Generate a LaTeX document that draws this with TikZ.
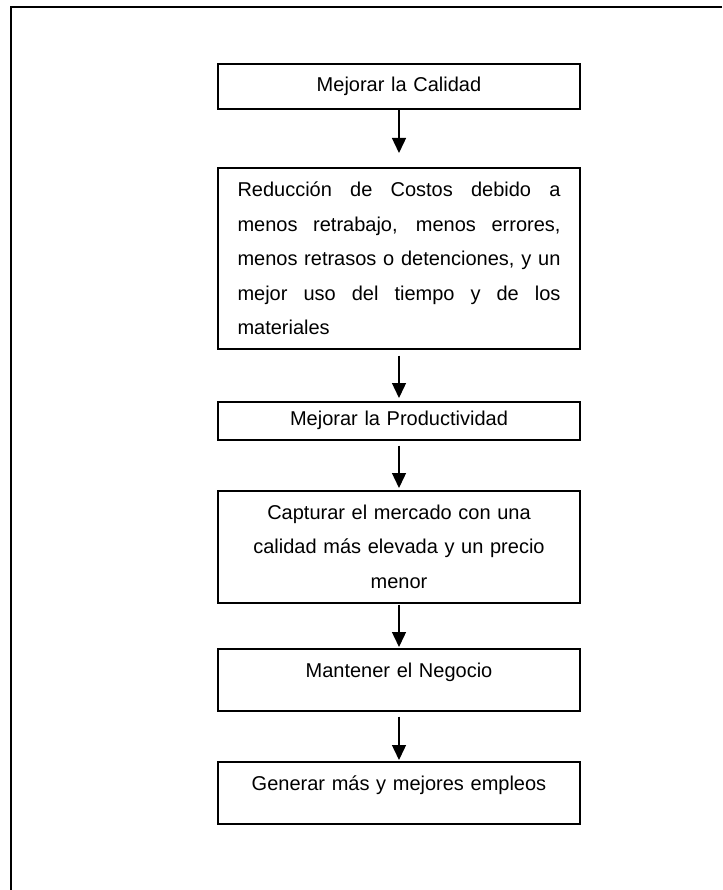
\documentclass[tikz,border=0pt]{standalone}
\usepackage{fontspec}
\setmainfont{Liberation Sans}
\usetikzlibrary{arrows.meta}
\tikzset{
  flowbox/.style={draw, line width=1.6pt, inner xsep=19.5pt, inner ysep=0pt,
    text width=323pt, align=center, anchor=north,
    font=\fontsize{20}{34.5}\selectfont},
  topbox/.style={flowbox, text height=29pt, text depth=33pt},
  flowarrow/.style={line width=1.4pt, -{Triangle[length=15pt,width=14pt]}},
  frameline/.style={line width=2pt}
}
\begin{document}
\begin{tikzpicture}[x=1pt,y=-1pt]
\useasboundingbox (0,0) rectangle (722,890);
\coordinate (fr1) at (722,7.5);
\coordinate (fr2) at (11,7.5);
\coordinate (fr3) at (11,890);
\draw[frameline] (fr1) -- (fr2) -- (fr3);

\node[flowbox, minimum height=45pt] (b1) at (399,63) {Mejorar la Calidad};
\node[flowbox, minimum height=181pt, align=justify] (b2) at (399,167)
  {Reducción de Costos debido a\linebreak menos retrabajo, menos errores,\linebreak menos retrasos o detenciones, y un\linebreak mejor uso del tiempo y de los\linebreak materiales};
\node[flowbox, minimum height=38pt] (b3) at (399,401) {Mejorar la Productividad};
\node[flowbox, minimum height=112pt] (b4) at (399,490)
  {Capturar el mercado con una\\calidad más elevada y un precio\\menor};
\node[topbox] (b5) at (399,648) {Mantener el Negocio};
\node[topbox] (b6) at (399,761) {Generar más y mejores empleos};

\draw[flowarrow, shorten >=14pt] (b1.south) -- (b2.north);
\draw[flowarrow, shorten <=6pt, shorten >=3pt] (b2.south) -- (b3.north);
\draw[flowarrow, shorten <=5pt, shorten >=2pt] (b3.south) -- (b4.north);
\draw[flowarrow, shorten <=1pt, shorten >=1pt] (b4.south) -- (b5.north);
\draw[flowarrow, shorten <=5pt, shorten >=1pt] (b5.south) -- (b6.north);
\end{tikzpicture}
\end{document}
